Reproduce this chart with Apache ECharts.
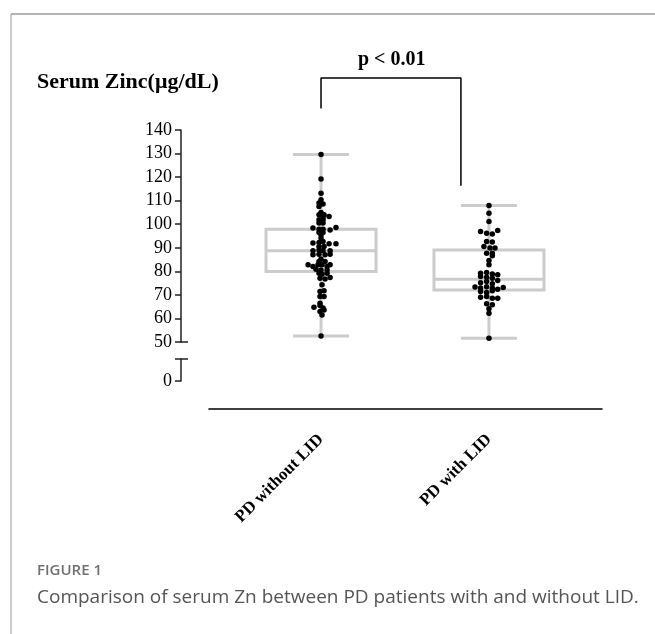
<!DOCTYPE html>
<html>
<head>
<meta charset="utf-8">
<script src="https://cdn.jsdelivr.net/npm/echarts@6/dist/echarts.min.js"></script>
<style>
  html, body { margin: 0; padding: 0; background: #fff; }
  #chart { width: 655px; height: 634px; }
</style>
</head>
<body>
<div id="chart"></div>
<script>
// groups on the x axis (1 and 2)
var categories = ['PD without LID', 'PD with LID'];

// [min, Q1, median, Q3, max] per group
var boxStats = [
  [52.6, 79.9, 88.7, 97.9, 129.6],
  [51.6, 72.1, 76.6, 89.1, 108.0]
];

// individual patients: [x offset from group centre, zinc]
var withoutLID = [
  [0, 129.6], [0, 119.2], [0, 113.2], [0, 110.4], [-0.012, 109.0], [0.012, 108.6],
  [-0.012, 107.5], [0, 105.0], [0.018, 104.0], [-0.012, 104.0], [0.048, 103.3],
  [0.012, 102.9], [-0.012, 101.9], [0.012, 101.9], [-0.012, 100.5], [0.012, 100.5],
  [-0.048, 98.4], [-0.012, 97.9], [0.012, 97.9], [0.054, 97.6], [0.089, 98.6],
  [-0.012, 96.5], [0.012, 96.5], [0, 95.5], [0, 94.1], [-0.048, 92.0], [-0.012, 92.2],
  [0.012, 92.7], [0.048, 91.7], [0.089, 91.7], [-0.012, 90.5], [0.018, 90.5],
  [-0.048, 88.7], [-0.012, 89.1], [0.012, 88.7], [0.054, 88.7], [-0.048, 87.0],
  [-0.012, 87.3], [0.024, 87.0], [0.054, 87.3], [0, 85.2], [-0.012, 84.2], [0.024, 84.2],
  [-0.077, 82.8], [-0.048, 82.0], [-0.018, 82.8], [0.006, 82.8], [0.036, 82.0],
  [0.054, 82.8], [-0.03, 80.9], [0, 80.6], [0.036, 80.6], [-0.012, 79.2], [0.006, 78.8],
  [0.036, 79.2], [-0.006, 77.1], [0.024, 76.7], [0.054, 77.4], [0.006, 74.3],
  [-0.006, 71.4], [0.018, 71.8], [-0.006, 69.3], [0.018, 69.3], [-0.006, 66.5],
  [-0.042, 64.8], [-0.006, 65.5], [0.012, 64.4], [-0.006, 62.9], [0.018, 63.6],
  [0.006, 61.5], [0, 52.6]
];
var withLID = [
  [0, 108.0], [0, 104.7], [0, 101.2], [-0.05, 96.9], [-0.014, 96.2], [0.02, 95.8],
  [0.052, 97.3], [-0.014, 92.7], [0.02, 92.4], [-0.03, 90.5], [0.006, 89.9], [0.036, 89.9],
  [-0.014, 87.7], [0.02, 87.7], [0.02, 86.6], [0, 84.6], [0, 82.8], [-0.05, 79.2],
  [-0.014, 79.5], [0.02, 78.9], [0.052, 78.5], [-0.05, 77.8], [-0.014, 77.5], [0.02, 77.1],
  [0.052, 76.1], [-0.05, 75.2], [-0.014, 75.7], [0.02, 74.7], [-0.083, 73.3], [-0.05, 72.9],
  [-0.014, 73.5], [0.02, 72.9], [0.052, 72.4], [0.085, 73.1], [-0.05, 71.4], [-0.014, 71.0],
  [0.02, 71.8], [-0.05, 69.0], [-0.014, 69.3], [0.02, 68.6], [0.052, 68.6], [-0.014, 66.2],
  [0.02, 65.8], [0, 64.1], [0, 62.2], [0, 51.6]
];

// significance bracket: [x, zinc] corners
var bracket = [[1, 149.1], [1, 162.1], [1.833, 162.1], [1.833, 116.3]];
var pText = 'p < 0.01';

var yTicksUpper = [50, 140];
var SERIF = '"Liberation Serif", "Times New Roman", serif';
var SANS = '"Open Sans", "Noto Sans", sans-serif';
var BOX_W = 110, CAP_W = 56, GREY = '#cccccc';

var chart = echarts.init(document.getElementById('chart'));

var boxData = boxStats.map(function (s, i) { return [i + 1].concat(s); });
function place(pts, c) { return pts.map(function (p) { return [c + p[0], p[1]]; }); }

var xMin = 0.333, xMax = 2.673;

chart.setOption({
  animation: false,
  title: [
    { text: 'Serum Zinc(\u03bcg/dL)', left: 32, top: 66,
      textStyle: { fontFamily: SERIF, fontSize: 22, fontWeight: 'bold', color: '#000' } },
    { text: pText, left: 353, top: 45,
      textStyle: { fontFamily: SERIF, fontSize: 20, fontWeight: 'bold', color: '#000' } },
    { text: 'FIGURE 1', left: 32, top: 558,
      textStyle: { fontFamily: SANS, fontSize: 15, fontWeight: 600, color: '#707070' } },
    { text: 'Comparison of serum Zn between PD patients with and without LID.', left: 32, top: 583,
      textStyle: { fontFamily: SANS, fontSize: 19, fontWeight: 'normal', color: '#555' } }
  ],
  graphic: [
    { type: 'line', shape: { x1: 11, y1: 14, x2: 655, y2: 14 }, style: { stroke: '#b5b5b5', lineWidth: 2 } },
    { type: 'line', shape: { x1: 11, y1: 14, x2: 11, y2: 634 }, style: { stroke: '#999', lineWidth: 1 } }
  ],
  grid: [
    { left: 209, right: 53, top: 130, height: 212 },
    { left: 209, right: 53, top: 359, height: 22 }
  ],
  xAxis: [
    { gridIndex: 0, type: 'value', min: xMin, max: xMax, show: false },
    { gridIndex: 1, type: 'value', min: xMin, max: xMax, position: 'bottom', offset: 28,
      splitLine: { show: false },
      axisLine: { show: true, onZero: false, lineStyle: { color: '#000', width: 1.5 } },
      axisTick: { show: false },
      axisLabel: { customValues: [1, 2], rotate: 45, margin: 28,
        formatter: function (v) { return categories[Math.round(v) - 1]; },
        fontFamily: SERIF, fontSize: 17, fontWeight: 'bold', color: '#000' } }
  ],
  yAxis: [
    { gridIndex: 0, type: 'value', min: 50, max: 140, interval: 10, position: 'left', offset: 28,
      splitLine: { show: false },
      axisLine: { show: true, onZero: false, lineStyle: { color: '#222', width: 1.5 } },
      axisTick: { show: true, length: 6, lineStyle: { color: '#222', width: 1.5 } },
      axisLabel: { margin: 9, fontFamily: SERIF, fontSize: 18, color: '#000' } },
    { gridIndex: 0, type: 'value', min: 50, max: 140, position: 'left', offset: 28,
      splitLine: { show: false }, axisLine: { show: false }, axisLabel: { show: false },
      axisTick: { show: true, inside: true, length: 7, customValues: [yTicksUpper[0]],
        lineStyle: { color: '#222', width: 1.5 } } },
    { gridIndex: 1, type: 'value', min: 0, max: 10, position: 'left', offset: 28,
      splitLine: { show: false },
      axisLine: { show: true, onZero: false, lineStyle: { color: '#222', width: 1.5 } },
      axisTick: { show: true, length: 6, customValues: [0, 10], lineStyle: { color: '#222', width: 1.5 } },
      axisLabel: { customValues: [0], margin: 9, fontFamily: SERIF, fontSize: 18, color: '#000' } },
    { gridIndex: 1, type: 'value', min: 0, max: 10, position: 'left', offset: 28,
      splitLine: { show: false }, axisLine: { show: false }, axisLabel: { show: false },
      axisTick: { show: true, inside: true, length: 7, customValues: [10],
        lineStyle: { color: '#222', width: 1.5 } } }
  ],
  series: [
    {
      type: 'custom', xAxisIndex: 0, yAxisIndex: 0, z: 1,
      data: boxData,
      renderItem: function (params, api) {
        var x = api.value(0);
        var lo = api.coord([x, api.value(1)]);
        var q1 = api.coord([x, api.value(2)]);
        var md = api.coord([x, api.value(3)]);
        var q3 = api.coord([x, api.value(4)]);
        var hi = api.coord([x, api.value(5)]);
        var cx = lo[0];
        var st = { stroke: GREY, lineWidth: 3, fill: null };
        return {
          type: 'group',
          children: [
            { type: 'line', shape: { x1: cx, y1: lo[1], x2: cx, y2: q1[1] }, style: st },
            { type: 'line', shape: { x1: cx, y1: q3[1], x2: cx, y2: hi[1] }, style: st },
            { type: 'line', shape: { x1: cx - CAP_W / 2, y1: lo[1], x2: cx + CAP_W / 2, y2: lo[1] }, style: st },
            { type: 'line', shape: { x1: cx - CAP_W / 2, y1: hi[1], x2: cx + CAP_W / 2, y2: hi[1] }, style: st },
            { type: 'rect', shape: { x: cx - BOX_W / 2, y: q3[1], width: BOX_W, height: q1[1] - q3[1] },
              style: { stroke: GREY, lineWidth: 3, fill: 'rgba(255,255,255,0)' } },
            { type: 'line', shape: { x1: cx - BOX_W / 2, y1: md[1], x2: cx + BOX_W / 2, y2: md[1] }, style: st }
          ]
        };
      }
    },
    { type: 'scatter', xAxisIndex: 0, yAxisIndex: 0, z: 3, symbolSize: 5.5,
      itemStyle: { color: '#000', opacity: 1 }, data: place(withoutLID, 1) },
    { type: 'scatter', xAxisIndex: 0, yAxisIndex: 0, z: 3, symbolSize: 5.5,
      itemStyle: { color: '#000', opacity: 1 }, data: place(withLID, 2) },
    { type: 'line', xAxisIndex: 0, yAxisIndex: 0, z: 4, clip: false, showSymbol: false,
      symbol: 'none', lineStyle: { color: '#000', width: 1.5 }, data: bracket }
  ]
});
</script>
</body>
</html>
